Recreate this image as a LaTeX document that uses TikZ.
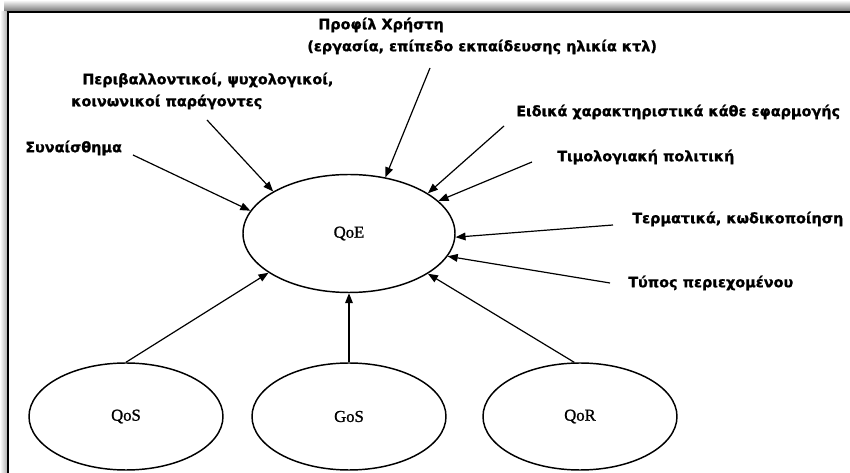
\documentclass[tikz,border=0pt]{standalone}
\usepackage{fontspec}
\setmainfont{Liberation Serif}
\newfontfamily\ellfont{Liberation Serif}[FakeBold=1.2]
\newfontfamily\lblfont{DejaVu Sans Bold}[FakeBold=1.0]
\usetikzlibrary{shapes.geometric,arrows.meta}
\tikzset{
  bubble/.style={ellipse,draw,line width=1.1pt,inner sep=0pt,minimum width=145.5pt,minimum height=80.25pt,font=\ellfont\fontsize{12.5}{14}\selectfont},
  bigbubble/.style={bubble,minimum width=159pt,minimum height=88.5pt},
  lbl/.style={anchor=west,inner sep=0pt,font=\lblfont\fontsize{10.8}{12}\selectfont},
  arr/.style={line width=0.9pt,-{Triangle[length=7.5pt,width=5.8pt]}}
}
\begin{document}
\begin{tikzpicture}[x=0.75pt,y=-0.75pt]
\useasboundingbox (0,0) rectangle (850,473);
% frame
\shade[top color=white,bottom color=black!55] (4,0) rectangle (850,11.5);
\shade[left color=white,right color=black!30] (0,12) rectangle (7,473);
\draw[line width=1.5pt] (6.5,12.5) -- (850,12.5);
\draw[line width=1.5pt] (7.5,12) -- (7.5,473);
% ellipses
\node[bigbubble] (qoe) at (349,233.5) {QoE};
\node[bubble] (qos) at (126,416.5) {QoS};
\node[bubble] (gos) at (349,416.5) {GoS};
\node[bubble] (qor) at (580,416.5) {QoR};
% labels
\node[lbl] (syn) at (25,148) {Συναίσθημα};
\node[lbl] (env1) at (82,80) {Περιβαλλοντικοί, ψυχολογικοί,};
\node[lbl] (env2) at (71,102) {κοινωνικοί παράγοντες};
\node[lbl] (prof1) at (318,25) {Προφίλ Χρήστη};
\node[lbl] (prof2) at (307,47) {(εργασία, επίπεδο εκπαίδευσης ηλικία κτλ)};
\node[lbl] (eid) at (516,112) {Ειδικά χαρακτηριστικά κάθε εφαρμογής};
\node[lbl] (tim) at (557,157) {Τιμολογιακή πολιτική};
\node[lbl] (ter) at (632,219) {Τερματικά, κωδικοποίηση};
\node[lbl] (typ) at (628,283) {Τύπος περιεχομένου};
% tails
\coordinate (tsyn) at (133,155);
\coordinate (tenv) at (207,120);
\coordinate (tprof) at (430,68);
\coordinate (teid) at (504,126);
\coordinate (ttim) at (532,162);
\coordinate (tter) at (613,225);
\coordinate (ttyp) at (610,283);
% arrows
\draw[arr] (tsyn) -- (qoe.167.8);
\draw[arr] (tenv) -- (qoe.151);
\draw[arr] (tprof) -- (qoe.57);
\draw[arr] (teid) -- (qoe.27.1);
\draw[arr] (ttim) -- (qoe.20.6);
\draw[arr] (tter) -- (qoe.-2);
\draw[arr] (ttyp) -- (qoe.-13);
\draw[arr] (qos.north) -- (qoe.206.5);
\draw[arr] (gos.north) -- (qoe.south);
\draw[arr] (qor.96) -- (qoe.-27);
\end{tikzpicture}
\end{document}
